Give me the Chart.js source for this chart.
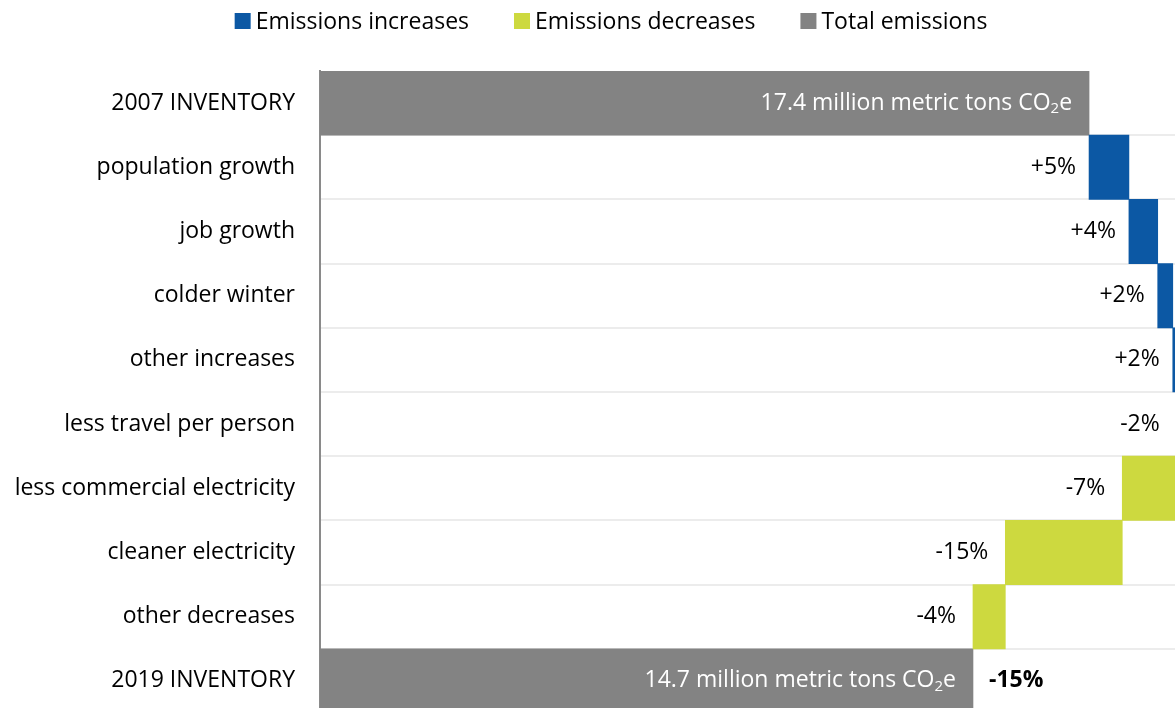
<!DOCTYPE html>
<html>
<head>
<meta charset="utf-8">
<script src="https://cdn.jsdelivr.net/npm/chart.js@4.4.1/dist/chart.umd.min.js"></script>
<style>
  html, body { margin: 0; padding: 0; background: #fff; overflow: hidden; width: 1175px; height: 708px; }
  #wrap { position: relative; width: 1175px; height: 708px; overflow: hidden; }
  #box { position: absolute; left: 0; top: 0; width: 1222px; height: 716px; }
</style>
</head>
<body>
<div id="wrap"><div id="box"><canvas id="c"></canvas></div></div>
<script>
// Emissions bridge, 2007 -> 2019 (million metric tons CO2e)
const categories = [
  '2007 INVENTORY',
  'population growth',
  'job growth',
  'colder winter',
  'other increases',
  'less travel per person',
  'less commercial electricity',
  'cleaner electricity',
  'other decreases',
  '2019 INVENTORY'
];
const inventory2007 = 17.36;
const inventory2019 = 14.74;
// change contributed by each driver between the two inventories
const driverChanges = [0.90, 0.65, 0.34, 0.40, -0.31, -1.23, -2.64, -0.73];
const seriesNames = ['Emissions increases', 'Emissions decreases', 'Total emissions'];
const seriesColors = ['#0c58a4', '#cdd93f', '#838383'];

const FONT = '"Open Sans", "Noto Sans", sans-serif';
const FONT_SIZE = 23;

// floating [from, to] bars for each series, built from the running total
const increaseBars = categories.map(() => null);
const decreaseBars = categories.map(() => null);
const totalBars = categories.map(() => null);
totalBars[0] = [0, inventory2007];
totalBars[categories.length - 1] = [0, inventory2019];
let running = inventory2007;
driverChanges.forEach((d, k) => {
  const from = running;
  running += d;
  (d >= 0 ? increaseBars : decreaseBars)[k + 1] = [from, running];
});

const pctText = v => {
  const p = Math.round(v / inventory2007 * 100);
  return (p > 0 ? '+' : '') + p + '%';
};

// value labels: totals inside their bars, driver shares left of each step
const valueLabels = {
  id: 'valueLabels',
  afterDatasetsDraw(chart) {
    const ctx = chart.ctx;
    ctx.save();
    ctx.textBaseline = 'middle';
    const font = `${FONT_SIZE}px ${FONT}`;
    const subFont = `${Math.round(FONT_SIZE * 0.65)}px ${FONT}`;
    categories.forEach((cat, i) => {
      const dsIndex = [increaseBars, decreaseBars, totalBars].findIndex(a => a[i] !== null);
      const el = chart.getDatasetMeta(dsIndex).data[i];
      const left = Math.min(el.x, el.base);
      const right = Math.max(el.x, el.base);
      const y = el.y;
      if (dsIndex === 2) {
        const value = totalBars[i][1];
        const main = value.toFixed(1) + ' million metric tons CO';
        ctx.font = font;
        const w1 = ctx.measureText(main).width;
        const w3 = ctx.measureText('e').width;
        ctx.font = subFont;
        const w2 = ctx.measureText('2').width;
        const x = right - 17 - (w1 + w2 + w3);
        ctx.fillStyle = '#ffffff';
        ctx.textAlign = 'left';
        ctx.font = font;
        ctx.fillText(main, x, y);
        ctx.font = subFont;
        ctx.fillText('2', x + w1, y + 6);
        ctx.font = font;
        ctx.fillText('e', x + w1 + w2, y);
        if (i === categories.length - 1) {
          ctx.font = `bold ${FONT_SIZE}px ${FONT}`;
          ctx.fillStyle = '#000';
          ctx.fillText(pctText(inventory2019 - inventory2007), right + 16, y);
        }
      } else {
        const change = driverChanges[i - 1];
        ctx.font = font;
        ctx.fillStyle = '#000';
        ctx.textAlign = 'right';
        ctx.fillText(pctText(change), left - (change >= 0 ? 13 : 17), y);
      }
    });
    ctx.restore();
  }
};

// legend row across the top
const topLegend = {
  id: 'topLegend',
  afterDraw(chart) {
    const ctx = chart.ctx;
    ctx.save();
    ctx.font = `${FONT_SIZE}px ${FONT}`;
    ctx.textBaseline = 'middle';
    const box = 16, gapText = 5, gapItem = 45;
    const widths = seriesNames.map(n => box + gapText + ctx.measureText(n).width);
    const total = widths.reduce((a, b) => a + b, 0) + gapItem * (seriesNames.length - 1);
    let x = chart.width / 2 - total / 2;
    const cy = 21;
    seriesNames.forEach((n, k) => {
      ctx.fillStyle = seriesColors[k];
      ctx.fillRect(x, cy - box / 2, box, box);
      ctx.fillStyle = '#000';
      ctx.textAlign = 'left';
      ctx.fillText(n, x + box + gapText, cy + 1);
      x += widths[k] + gapItem;
    });
    ctx.restore();
  }
};

const barStyle = { barPercentage: 1, categoryPercentage: 1, borderWidth: 0 };

new Chart(document.getElementById('c'), {
  type: 'bar',
  data: {
    labels: categories,
    datasets: [
      Object.assign({ label: seriesNames[0], data: increaseBars, backgroundColor: seriesColors[0] }, barStyle),
      Object.assign({ label: seriesNames[1], data: decreaseBars, backgroundColor: seriesColors[1] }, barStyle),
      Object.assign({ label: seriesNames[2], data: totalBars, backgroundColor: seriesColors[2] }, barStyle)
    ]
  },
  options: {
    indexAxis: 'y',
    responsive: true,
    maintainAspectRatio: false,
    animation: false,
    grouped: false,
    layout: { padding: { top: 71, right: 16, bottom: 3, left: 0 } },
    plugins: { legend: { display: false }, tooltip: { enabled: false } },
    scales: {
      x: { display: false, min: 0, max: 20 },
      y: {
        grid: {
          offset: true,
          drawTicks: false,
          lineWidth: 2,
          color: c => (c.index === 0 ? 'rgba(0,0,0,0)' : '#ececec')
        },
        border: { display: true, color: '#8a8a8a', width: 2 },
        ticks: { padding: 25, color: '#000', font: { family: FONT, size: FONT_SIZE } },
        afterFit(scale) {
          scale.width = 320;
          scale.paddingTop = 0;
          scale.paddingBottom = 0;
        }
      }
    }
  },
  plugins: [valueLabels, topLegend]
});
</script>
</body>
</html>
